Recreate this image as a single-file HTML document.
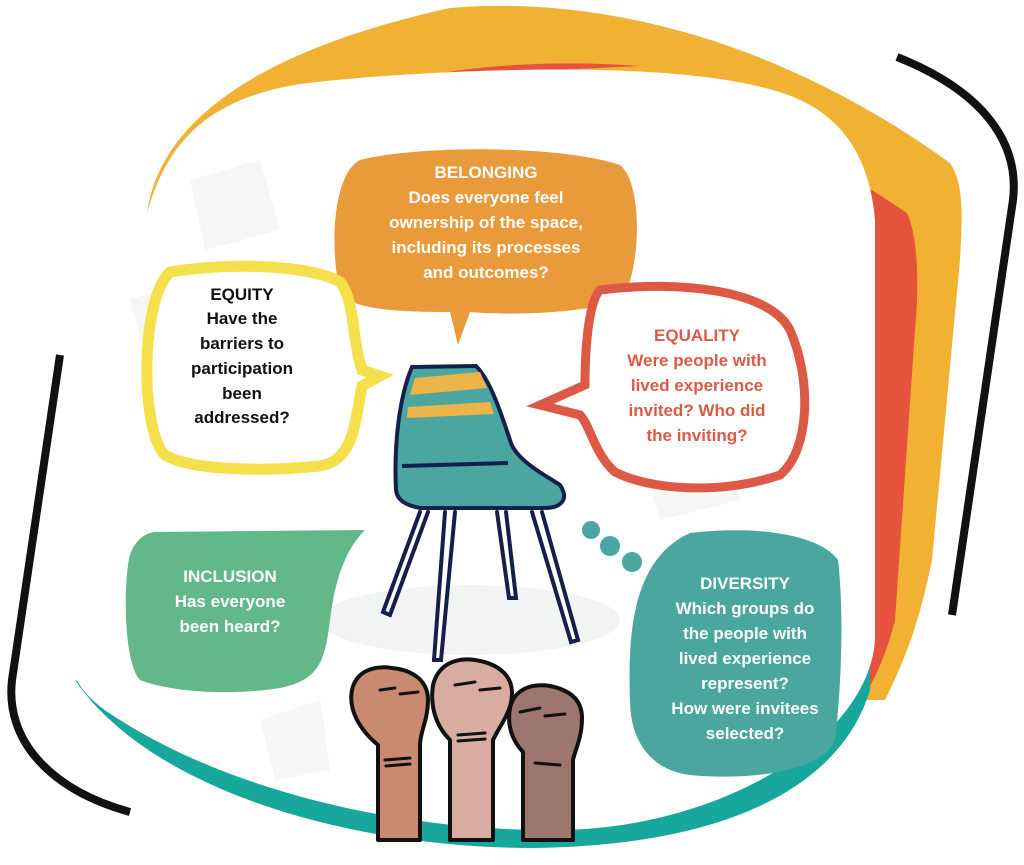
<!DOCTYPE html>
<html><head><meta charset="utf-8"><style>
html,body{margin:0;padding:0;background:#fff;}
svg{display:block}
text{font-family:"Liberation Sans",sans-serif;font-weight:bold;font-size:17px;text-anchor:middle}
</style></head><body>
<svg width="1024" height="865" viewBox="0 0 1024 865">
<!-- orange back blob -->
<path d="M147 213 C160 120 260 50 450 8 C600 -5 780 40 950 163 C965 185 962 220 960 260 L932 560 C920 620 905 660 885 700 L150 700 Z" fill="#f1b234"/>
<!-- red layer -->
<path d="M400 80 C480 64 560 60 640 66 C600 68 500 72 400 80Z" fill="#e6533c"/>
<path d="M872 190 L907 213 C920 240 918 300 915 330 L895 620 C885 660 870 690 860 700 L860 190Z" fill="#e6533c"/>
<!-- teal bottom -->
<path d="M75 680 C150 790 350 848 533 848 C720 846 840 790 870 690 L870 640 L120 700Z" fill="#18a79c"/>
<!-- white card -->
<path d="M147 213 C165 150 200 100 300 84 C400 72 520 68 600 70 C680 72 767 80 810 105 C845 125 870 160 875 220 L875 640 C868 740 720 828 560 830 C400 832 230 790 120 720 C95 705 80 690 75 675 C80 500 110 320 147 213Z" fill="#fff"/>
<path d="M190 180 L260 160 L280 230 L205 250Z M130 300 L220 270 L240 340 L150 370Z M640 450 L720 420 L740 500 L660 520Z M160 580 L240 560 L250 620 L170 640Z M260 720 L320 700 L330 770 L275 780Z" fill="#f5f6f5"/>
<ellipse cx="470" cy="620" rx="150" ry="35" fill="#f2f3f3"/>
<!-- black arcs -->
<path d="M897 57 C980 90 1020 140 1013 200 L952 615" fill="none" stroke="#111" stroke-width="8"/>
<path d="M60 355 L12 680 C5 740 50 790 130 812" fill="none" stroke="#111" stroke-width="8"/>

<!-- Belonging -->
<path d="M360 160 C420 145 560 145 620 165 C645 185 640 280 620 300 C580 315 500 315 470 312 L458 345 L450 312 C400 312 350 310 340 292 C330 250 332 175 360 160Z" fill="#e99a3a"/>
<g fill="#fff">
<text x="486" y="178">BELONGING</text>
<text x="486" y="203">Does everyone feel</text>
<text x="486" y="228">ownership of the space,</text>
<text x="486" y="253">including its processes</text>
<text x="486" y="278">and outcomes?</text>
</g>
<!-- Equity -->
<path d="M170 272 C230 262 310 265 340 282 C355 300 352 340 362 370 L380 376 L362 386 C355 420 355 460 320 466 C260 472 190 470 165 455 C140 430 140 300 170 272Z" fill="#fff" stroke="#f5df4a" stroke-width="11"/>
<g fill="#111">
<text x="242" y="300">EQUITY</text>
<text x="242" y="324">Have the</text>
<text x="242" y="349">barriers to</text>
<text x="242" y="374">participation</text>
<text x="242" y="399">been</text>
<text x="242" y="423">addressed?</text>
</g>
<!-- Equality -->
<path d="M600 290 C680 280 770 290 790 330 C812 380 810 450 780 475 C720 495 650 490 615 472 C595 455 590 425 580 415 L540 405 L585 385 C585 340 590 300 600 290Z" fill="#fff" stroke="#dc5a45" stroke-width="9"/>
<g fill="#dc5a45">
<text x="697" y="341">EQUALITY</text>
<text x="697" y="366">Were people with</text>
<text x="697" y="391">lived experience</text>
<text x="697" y="416">invited? Who did</text>
<text x="697" y="441">the inviting?</text>
</g>
<!-- Inclusion -->
<path d="M155 532 L365 530 C345 550 335 580 330 620 C325 660 320 680 280 688 C230 696 170 692 140 680 C122 660 124 575 130 555 C135 540 145 533 155 532Z" fill="#63b889"/>
<g fill="#fff">
<text x="230" y="582">INCLUSION</text>
<text x="230" y="607">Has everyone</text>
<text x="230" y="632">been heard?</text>
</g>
<!-- Diversity dots -->
<circle cx="591" cy="530" r="9" fill="#4aa69f"/><circle cx="610" cy="546" r="10" fill="#4aa69f"/><circle cx="632" cy="562" r="10" fill="#4aa69f"/>
<!-- Diversity -->
<path d="M690 533 C760 525 820 535 838 560 C845 620 840 700 835 740 C820 775 740 780 690 775 C650 770 630 740 630 700 C628 640 630 560 690 533Z" fill="#4aa69f"/>
<g fill="#fff">
<text x="745" y="589">DIVERSITY</text>
<text x="745" y="614">Which groups do</text>
<text x="745" y="639">the people with</text>
<text x="745" y="664">lived experience</text>
<text x="745" y="689">represent?</text>
<text x="745" y="714">How were invitees</text>
<text x="745" y="739">selected?</text>
</g>
<!-- chair -->
<path d="M412 367 L476 366 C490 380 500 410 510 440 C515 460 545 475 560 485 C570 500 560 508 545 508 L420 508 C405 505 397 500 396 490 C394 450 398 400 412 367Z" fill="#4ba6a0" stroke="#14204b" stroke-width="4"/>
<path d="M415 378 L480 372 L487 388 L410 395Z" fill="#ecb549"/>
<path d="M408 407 L490 402 L494 414 L407 418Z" fill="#ecb549"/>
<path d="M402 466 L508 463" stroke="#14204b" stroke-width="4"/>
<g stroke="#14204b" stroke-width="4" fill="#fff" stroke-linecap="round">
<path d="M420 512 L383 612 L390 615 L428 512"/>
<path d="M445 512 L434 660 L441 660 L455 512"/>
<path d="M497 512 L509 598 L516 598 L506 512"/>
<path d="M532 512 L571 642 L578 640 L542 512"/>
</g>
<!-- fists -->
<g stroke="#111" stroke-width="4" stroke-linejoin="round">
<path d="M378 840 L378 745 C360 730 348 710 352 690 C356 672 372 665 392 668 C412 670 428 680 428 700 C428 720 420 732 420 745 L420 840Z" fill="#c98a72"/>
<path d="M523 840 L523 752 C512 740 507 725 510 708 C514 690 530 683 550 686 C570 690 582 700 582 718 C582 738 575 750 573 760 L573 840Z" fill="#9d776f"/>
<path d="M450 840 L450 740 C435 725 430 705 433 685 C438 665 455 657 475 660 C495 663 512 673 512 693 C512 712 500 725 493 740 L493 840Z" fill="#d9aca1"/>
</g>
<g stroke="#111" stroke-width="3" fill="none" stroke-linecap="round">
<path d="M380 690 L395 688 M400 694 L418 692 M385 760 L410 758 M386 766 L410 764"/>
<path d="M455 685 L475 682 M480 690 L500 688 M458 735 L485 733 M458 741 L485 739"/>
<path d="M520 712 L540 708 M545 716 L565 714 M535 763 L560 765"/>
</g>
</svg>
</body></html>
